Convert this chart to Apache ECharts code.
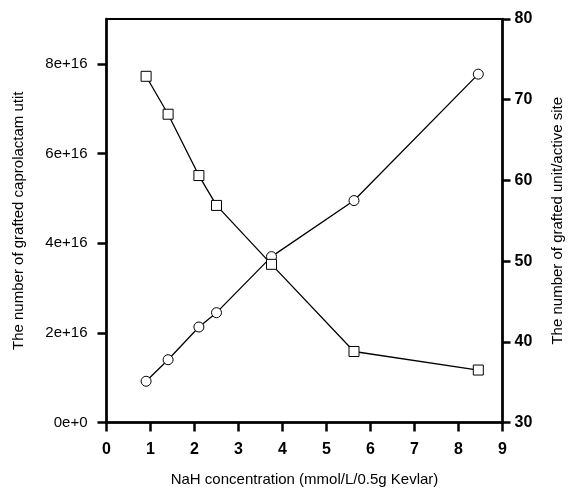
<!DOCTYPE html>
<html>
<head>
<meta charset="UTF-8">
<script src="https://cdn.jsdelivr.net/npm/echarts@6/dist/echarts.min.js"></script>
<style>
  html, body { margin: 0; padding: 0; background: #fff; }
  #chart { width: 570px; height: 489px; }
</style>
</head>
<body>
<div id="chart"></div>
<script>
// NaH concentration (mmol/L/0.5g Kevlar)
var nahConc = [0.9, 1.4, 2.1, 2.5, 3.75, 5.625, 8.45];
// grafted caprolactam units (left axis, circles)
var graftedUnits = [0.92e16, 1.40e16, 2.13e16, 2.45e16, 3.70e16, 4.95e16, 7.77e16];
// grafted units per active site (right axis, squares)
var unitsPerSite = [72.9, 68.2, 60.6, 56.9, 49.6, 38.8, 36.5];

var leftTicks = { min: 0, max: 9e16, interval: 2e16 };
var rightTicks = { min: 30, max: 80, interval: 10 };

function pairs(xs, ys) {
    return xs.map(function (x, i) { return [x, ys[i]]; });
}

var chart = echarts.init(document.getElementById('chart'));

var font = 'Liberation Sans, Arial, sans-serif';
var txt = { color: '#000', fontFamily: font, fontSize: 15 };

var option = {
    animation: false,
    grid: {
        left: 106.5, right: 67.5, top: 19, bottom: 66.5,
        outerBoundsMode: 'none', containLabel: false,
        show: true, borderColor: '#000', borderWidth: 2
    },
    xAxis: {
        type: 'value', min: 0, max: 9, interval: 1,
        name: 'NaH concentration (mmol/L/0.5g Kevlar)',
        nameLocation: 'middle', nameGap: 50,
        nameTextStyle: txt,
        axisLine: { lineStyle: { color: '#000', width: 2.5 } },
        axisTick: { length: 9, lineStyle: { color: '#000', width: 2.5 } },
        axisLabel: { margin: 19, color: '#000', fontFamily: font, fontSize: 16, fontWeight: 'bold' },
        splitLine: { show: false }
    },
    yAxis: [{
        type: 'value', position: 'left',
        min: leftTicks.min, max: leftTicks.max, interval: leftTicks.interval,
        name: 'The number of grafted caprolactam utit',
        nameLocation: 'middle', nameGap: 80, nameRotate: 90,
        nameTextStyle: txt,
        axisLine: { show: true, lineStyle: { color: '#000', width: 2.5 } },
        axisTick: { show: true, length: 9, lineStyle: { color: '#000', width: 2.5 } },
        axisLabel: {
            margin: 19, color: '#000', fontFamily: font, fontSize: 15, showMaxLabel: false,
            formatter: function (v) { return v === 0 ? '0e+0' : Math.round(v / 1e16) + 'e+16'; }
        },
        splitLine: { show: false }
    }, {
        type: 'value', position: 'right',
        min: rightTicks.min, max: rightTicks.max, interval: rightTicks.interval,
        name: 'The number of grafted unit/active site',
        nameLocation: 'middle', nameGap: 48, nameRotate: 90,
        nameTextStyle: txt,
        axisLine: { show: true, lineStyle: { color: '#000', width: 2.5 } },
        axisTick: { show: true, length: 8, lineStyle: { color: '#000', width: 2.5 } },
        axisLabel: { margin: 12, color: '#000', fontFamily: font, fontSize: 16, fontWeight: 'bold' },
        splitLine: { show: false }
    }],
    series: [{
        name: 'grafted units',
        type: 'line', yAxisIndex: 0,
        data: pairs(nahConc, graftedUnits),
        symbol: 'circle', symbolSize: 10,
        itemStyle: { color: '#fff', borderColor: '#000', borderWidth: 1 },
        lineStyle: { color: '#000', width: 1.3 }
    }, {
        name: 'units per site',
        type: 'line', yAxisIndex: 1,
        data: pairs(nahConc, unitsPerSite),
        symbol: 'rect', symbolSize: 10,
        itemStyle: { color: '#fff', borderColor: '#000', borderWidth: 1 },
        lineStyle: { color: '#000', width: 1.3 }
    }]
};

chart.setOption(option);
</script>
</body>
</html>
